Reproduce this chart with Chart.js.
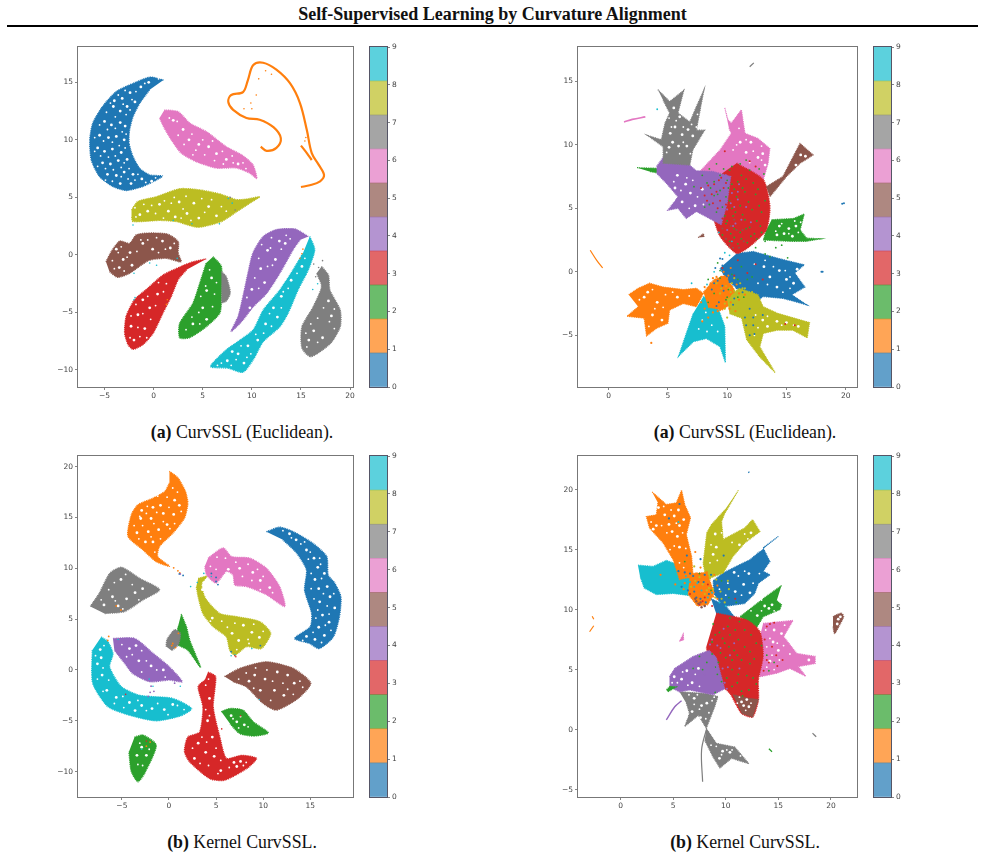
<!DOCTYPE html>
<html>
<head>
<meta charset="utf-8">
<title>Self-Supervised Learning by Curvature Alignment</title>
<script src="https://cdn.jsdelivr.net/npm/chart.js@4"></script>
<style>
  html, body { margin: 0; background: #fff; }
  body { position: relative; width: 985px; height: 856px; overflow: hidden; font-family: "Liberation Serif", serif; color: #111; }
  canvas { position: absolute; }
  .title { position: absolute; left: 0; width: 985px; top: 4px; text-align: center; font-weight: bold; font-size: 18px; line-height: 20px; }
  .rule { position: absolute; left: 7px; width: 971px; top: 25px; height: 2px; background: #000; }
  .caption { position: absolute; width: 300px; text-align: center; font-size: 17.8px; line-height: 20px; }
</style>
</head>
<body>
<div class="title">Self-Supervised Learning by Curvature Alignment</div>
<div class="rule"></div>
<div class="caption" style="left:92px;top:422px"><b>(a)</b> CurvSSL (Euclidean).</div>
<div class="caption" style="left:595px;top:422px"><b>(a)</b> CurvSSL (Euclidean).</div>
<div class="caption" style="left:92px;top:832px"><b>(b)</b> Kernel CurvSSL.</div>
<div class="caption" style="left:595px;top:832px"><b>(b)</b> Kernel CurvSSL.</div>

<script>
// tab10 colours, one per digit class
const tab10 = ['#1f77b4', '#ff7f0e', '#2ca02c', '#d62728', '#9467bd', '#8c564b', '#e377c2', '#7f7f7f', '#bcbd22', '#17becf'];
const barColors = ['rgba(31,119,180,.7)', 'rgba(255,127,14,.7)', 'rgba(44,160,44,.7)', 'rgba(214,39,40,.7)', 'rgba(148,103,189,.7)', 'rgba(140,86,75,.7)', 'rgba(227,119,194,.7)', 'rgba(127,127,127,.7)', 'rgba(188,189,34,.7)', 'rgba(23,190,207,.7)'];
const barTicks = [0, 1, 2, 3, 4, 5, 6, 7, 8, 9];
const barSpans = [0.9, 0.9, 0.9, 0.9, 0.9, 0.9, 0.9, 0.9, 0.9, 0.9];

// --- top left embedding ---
const aXTicks = [-5, 0, 5, 10, 15, 20];
const aYTicks = [-10, -5, 0, 5, 10, 15];
const aBlue = [[1,15.2],[-0.4,15.45],[-2.1,14.9],[-3.8,14.2],[-5.2,12.9],[-6.2,11.45],[-6.5,10],[-6.35,8.25],[-5.5,6.8],[-4.15,5.95],[-2.8,5.6],[-1.1,5.95],[0.27,6.5],[0.9,6.85],[-0.4,6.95],[-1.4,7.5],[-2.1,8.55],[-2.5,9.7],[-2.45,10.85],[-2.1,12],[-1.4,13.2],[-0.4,14.35]];
const aOrange = [[10.9,9.4],[11.5,9.05],[12.5,9.3],[12.95,10.15],[12.2,11.1],[10.8,11.75],[9.45,11.9],[8.1,12.6],[7.6,13.3],[7.9,13.9],[9.1,14.15],[9.6,15.2],[10.15,16.5],[11.15,16.7],[12.5,16.1],[13.9,14.9],[14.9,13.2],[15.6,10.85],[16.1,8.85],[16.8,7.85],[17.35,6.95],[16.95,6.4],[15.9,6.05],[15,5.9]];
const aOrangeBranch = [[15,9.5],[15.6,8.85],[16.1,8.25]];
const aGreen = [[6.05,-0.15],[6.9,-1],[6.9,-3.9],[6.75,-5.05],[5.35,-6.25],[3.65,-7.2],[2.65,-7.2],[2.65,-5.95],[4,-4.2],[4.7,-2.45],[5.35,-0.7]];
const aRed = [[5.35,-0.35],[4,-0.6],[2.8,-1],[0.95,-1.75],[-0.6,-2.9],[-1.95,-3.9],[-2.8,-5.35],[-2.95,-6.8],[-2.6,-7.8],[-2.1,-8.2],[-1.1,-7.8],[-0.05,-6.8],[0.95,-5.05],[1.8,-3.6],[2.5,-2.15],[3.35,-1.3]];
const aPurple = [[15.75,1.6],[14.4,2.25],[12.5,2.2],[11.15,1.6],[10.1,0.15],[9.6,-1.6],[9.1,-3.6],[8.6,-5.35],[7.9,-6.65],[8.95,-5.8],[10.15,-4.5],[11.5,-3.35],[12.85,-1.6],[14.2,0.45],[14.9,1.3]];
const aBrown = [[-4.85,-0.6],[-4.3,0.3],[-3.45,1.2],[-2.45,1],[-1.75,1.75],[-0.4,1.9],[1.45,1.8],[2.5,1.15],[2.5,0.15],[2.8,-0.6],[1.3,-0.3],[-0.4,-0.45],[-1.45,-1],[-2.45,-1.6],[-3.65,-1.95],[-4.5,-1.45]];
const aPink = [[1.1,12.6],[2.5,12.45],[3.7,11.45],[5.4,10.7],[7.4,9.4],[8.95,8.7],[10.1,7.85],[10.5,6.65],[9.8,7.1],[8.45,7.55],[6.4,7.55],[4.35,8.1],[2.8,8.85],[1.8,10],[1.1,11],[0.6,11.9]];
const aGrey = [[17.1,-1],[17.8,-1.75],[17.95,-3.05],[19,-4.8],[19,-6.25],[18,-7.7],[16,-8.85],[15.1,-8.1],[15.1,-6.25],[16.25,-4.5],[17.1,-2.75],[16.6,-1.6]];
const aGreySmall = [[6.9,-1.45],[7.4,-1.9],[7.8,-3.3],[7.4,-4],[6.9,-4.2]];
const aOlive = [[-2.25,3.9],[-1.6,4.65],[0.25,5.05],[2.65,5.75],[4.7,5.65],[6.75,5.3],[8.45,4.8],[9.45,4.85],[10.8,5.05],[9.8,4.5],[8.45,3.75],[6.9,2.9],[4.5,2.4],[2.3,2.9],[0.6,3],[-2.1,2.9],[-2.25,3.3]];
const aCyan = [[15.9,1.6],[16.4,0.45],[15.75,-1.3],[14.7,-3.05],[13.7,-5.05],[12.85,-6.25],[11.15,-7.55],[10.15,-9.1],[9.1,-10.2],[7.6,-9.85],[5.8,-9.7],[7.4,-8.25],[8.8,-7.4],[10.15,-6.5],[11.15,-4.8],[12.85,-3.05],[14.2,-1.3],[15.2,0.15]];
const aGaps = [[-3.2,13.6],[-2.4,14.1],[-1.3,14.6],[-0.5,15],[-4.1,12.9],[-4,13.4],[-3.4,12.5],[-2.7,12.9],[-1.9,13.3],[-5,11.6],[-4.3,11.3],[-3.4,11.5],[-2.9,11.2],[-5.5,10.4],[-4.6,10.2],[-3.8,10.3],[-3,10],[-5.7,9.3],[-5,9],[-4.2,9.2],[-3.3,8.9],[-5.2,8],[-4.4,7.9],[-3.6,8.2],[-2.7,8.3],[-4.7,7],[-3.8,6.9],[-3,7.2],[-2.1,7],[-3.4,6.2],[-2.3,6.2],[-1.2,6.6],[-0.2,6.4],
  [2,11.7],[3,10.9],[3.6,10],[4.6,9.6],[5.6,9.4],[6.4,8.8],[7.4,8.3],[8.6,7.9],
  [0.6,4.4],[1.5,3.8],[2.6,4.6],[3.4,3.6],[4.1,4.5],[4.6,3.2],[5.6,4.2],[6.4,3.4],[-0.6,3.8],[-1.4,3.5],[2.2,3.3],
  [-3.8,0.5],[-3.1,-0.4],[-2.4,0.2],[-1.1,1],[-0.1,0.5],[0.9,1.2],[1.7,0.6],[-3.5,-1.1],[-2.2,-0.9],
  [-1.6,-5.2],[-0.9,-6.4],[-2,-7.4],[-0.4,-4.6],[-1.1,-3.9],[-2.3,-6.2],[0.4,-3.4],
  [5.4,-3.1],[5.9,-2],[5,-4.6],[4,-6],[5.4,-5.6],
  [12.8,1.2],[11.6,0.4],[12.4,-0.4],[10.9,-1.2],[11.3,-2.4],[10,-3],[13.4,1],[9.8,-4.6],
  [15.1,-1],[14,-2.2],[13,-3.6],[12.2,-4.6],[12.6,-5.4],[11.4,-6],[10.6,-7.4],[9.6,-7.9],[8.6,-8.6],[7.5,-9.2],[9.2,-9.4],[8,-8.4],
  [15,0.9],[17.8,-4],[18.1,-5.3],[16.3,-6.6],[17.2,-7.2],[15.8,-7.4]];
const aGapsFine = [[-2.9,14.3],[-1.8,14.2],[-0.9,14.9],[0.5,15.3],[-3.6,13.9],[-4.4,13.2],[-3.1,13.1],[-2.2,13.5],[-4.8,12.4],[-3.9,12],[-2.8,12.2],[-2.4,12.6],[-5.5,11.3],[-4.7,10.9],[-3.9,11],[-3.2,10.7],[-2.8,10.5],[-6,10.2],[-5.1,9.9],[-4.2,9.8],[-3.5,9.5],[-2.9,9.3],[-6,9],[-5.4,8.6],[-4.6,8.5],[-3.9,8.6],[-3,8],[-5.7,7.7],[-4.9,7.5],[-4.1,7.4],[-3.3,7.6],[-2.5,7.5],[-4.9,6.5],[-4.2,6.4],[-3.3,6.8],[-2.6,6.6],[-1.9,6.5],[-1.6,7],[-0.8,6.3],[0.2,6.7],
  [1.6,11.9],[2.4,11.6],[2.5,10.4],[3.1,9.6],[3.9,10.5],[4.3,9.1],[5,10],[5.2,8.7],[6,9.9],[6.2,8.2],[7,9],[7.1,7.9],[8,8.6],[8.1,8],[9.1,8],[9.4,7.5],[4,8.7],
  [-1.9,4.1],[-1,4.4],[-0.2,4.3],[0.2,3.6],[1.1,4.7],[1.8,4.5],[2.1,5],[3,4],[3.3,5.1],[3.8,3],[4.9,4.9],[5.2,3.7],[5.9,4.8],[6.9,4.2],[7.4,3.8],[1,3.2],[-1.8,3.3],[2.8,3.2],
  [-4.2,-0.5],[-3.6,0.2],[-3.3,0.7],[-2.7,-0.2],[-1.7,0.3],[-1.3,1.3],[-0.6,1.3],[0.3,1.5],[0.5,0.2],[1.2,0.5],[2.1,1],[-3,-1.4],[-4,-1.2],
  [-2.3,-5.3],[-1.8,-4.3],[-1.1,-5.1],[-0.6,-3.6],[-0.3,-5.6],[0.2,-4.4],[-2.4,-7.2],[-1.4,-7.1],[-1.6,-6.3],[-0.7,-7.2],[1,-3.2],[1.3,-2.5],[0.5,-2.4],
  [5.7,-1.3],[5.3,-2.7],[4.8,-3.6],[6.2,-3.4],[6,-4.5],[4.6,-5],[3.9,-5.4],[3.3,-6.5],[4.7,-6],[6.4,-2.4],
  [13.5,1.7],[12,1.5],[11.9,0.6],[11,0.9],[13,0.5],[10.7,-0.3],[11.6,-1],[10.3,-2],[10.7,-2.9],[9.5,-3.7],[13.9,1.4],[12.1,-0.9],
  [14.7,0.4],[15.4,-0.3],[14.6,-1.6],[13.7,-2.9],[13,-4.6],[13.2,-3.2],[11.8,-5.1],[12,-6.2],[11.2,-6.8],[10.4,-6.9],[9.9,-8.6],[8.9,-7.9],[7.9,-9.6],[8.4,-9.1],[9.5,-8.9],[6.9,-9.4],[6.5,-9.6],
  [17.3,-4.6],[18.4,-4.7],[17.9,-5.8],[18.4,-6.4],[16.7,-5.5],[16,-6],[15.5,-6.8],[16.7,-7.6],[15.6,-8]];
const aSpeckOrange = [[10.45,13.9],[9.9,13.2],[10,12.7],[9.2,12.7],[11.4,16],[12,15.7],[10.7,15.3],[15.5,10.2],[15.4,9.9],[15.2,0.5],[15.1,0.1],[14.9,-0.3],[1.4,-3.9],[1.3,-4.3]];
const aSpeckCyan = [[-1.9,-3.7],[-2,-3.9],[-0.4,-0.7],[0.3,-0.9],[-2.1,2.6],[2,3],[3.9,2.7],[7.6,4.9],[8,4.5],[2.4,-0.3],[16.2,-3],[16.7,-2.5],[-2,-1.6],[6.7,2.7]];
const aSpeckGrey = [[16.3,-0.8],[16.8,-1.1],[16.5,-1.9],[17.2,-0.5],[8.3,3.9],[7.8,5]];

// --- top right embedding ---
const bXTicks = [0, 5, 10, 15, 20];
const bYTicks = [-5, 0, 5, 10, 15];
const bBlue = [[10.8,1.45],[12.2,1.6],[14.75,0.95],[16.5,0.55],[15.7,-0.1],[16.55,-1.2],[15.45,-1.8],[16.7,-2.6],[14.75,-2.1],[13.05,-1.95],[12.2,-2.5],[11.05,-1.45],[9.95,-0.65],[9.4,0.3]];
const bMixOrange = [[8,-1.6],[8.9,-0.6],[9.8,-0.3],[10.6,-1.4],[10.8,-2.2],[9.6,-3],[8.4,-2.8]];
const bMixOlive = [[10,-2.2],[11,-1.3],[12.6,-1.8],[13,-2.7],[11.4,-3.7],[10.2,-3.3]];
const bOrange = [[1.7,-1.8],[2.5,-1.3],[3.45,-0.9],[4.6,-1.2],[6.3,-1.4],[7.4,-1.3],[8,-1.7],[7.4,-2.75],[6.3,-2.5],[5.15,-3],[5,-4.05],[4.05,-4.45],[3.2,-5.05],[3,-3.65],[1.55,-3.5],[2.5,-2.75]];
const bOrangeSmall = [[-1.55,1.7],[-1,0.9],[-0.5,0.3]];
const bGreen = [[13.75,4.1],[15.6,4.2],[16.5,4.55],[16.15,3.3],[16.7,2.65],[17.9,2.6],[16.7,2.4],[15.3,2.4],[13.05,2.5],[13.3,3.3]];
const bGreenTail = [[2.4,8.2],[4.05,8.15],[4.3,7.75],[3.45,7.9]];
const bRed = [[10.8,8.55],[13.05,7.25],[13.6,5.15],[13.3,3.3],[11.9,2],[10.8,1.45],[9.4,2.8],[8.8,4.35],[8.25,5.9],[8.8,7.25]];
const bPurple = [[4.05,8.3],[4.75,9.2],[6.3,8.8],[7.4,7.95],[8.8,7.9],[10.3,7.5],[10,5.4],[9.5,3.7],[7.4,4.75],[6.55,4.2],[5.85,5],[5,4.85],[5.85,5.9],[4.85,7],[4.05,7.75]];
const bBrown = [[13.3,6.7],[14.7,7.5],[16,9.85],[16.15,10.1],[17.25,9.2],[16.15,8.55],[15,7.5],[13.6,5.9]];
const bBrownSmall = [[7.55,2.7],[8,3],[8.05,2.75]];
const bPink = [[9.8,12.9],[10.05,12],[10.35,11.7],[11.2,12.75],[11.5,10.9],[12.6,10.5],[13.6,9.7],[13.45,8.55],[13.05,7.25],[10.8,7.75],[8.55,7.75],[7.7,7.9],[9.4,9.6],[10.35,10.9],[10.15,11.3]];
const bPinkSmall = [[1.3,11.8],[2,12],[3.1,12.2]];
const bGrey = [[4.15,14.35],[5.15,13.4],[6.35,14.3],[5.85,12.5],[6.85,11.8],[7.4,13],[8.05,14.35],[7.4,11.15],[8.1,11.15],[7.1,9.6],[6.85,8.4],[4.6,8.55],[4.6,9.85],[3.25,10.75],[4.45,10.4],[4.75,11.7],[5.15,12.5],[4.6,13.5]];
const bGreySmall = [[11.9,16.15],[12.25,16.45]];
const bOlive = [[10.8,-1.95],[13.05,-2.75],[14.2,-3.25],[16.95,-4],[16.75,-5.2],[15.55,-4.6],[14.2,-4.6],[13.05,-4.85],[12.75,-5.9],[14.05,-7.95],[12.75,-6.7],[11.65,-5.35],[11.2,-3.55]];
const bCyan = [[8,-1.95],[9.1,-2.5],[9.8,-4.3],[9.85,-7.15],[9.4,-5.9],[8.25,-5.25],[7.15,-5.5],[5.9,-6.65],[6.55,-4.85],[7.15,-3.25]];
const bGaps = [[5.6,11.4],[6.2,10.8],[6.7,11.2],[5.4,10.2],[5.9,9.9],[6.6,9.9],[6,12.2],[5.1,9.8],[7.1,10.7],[5.2,10.9],[5.5,12.9],[6.9,12.6],
  [12,10.2],[13,9.3],[12.6,9],[11.1,10.2],[11.6,9.4],[13.2,8.4],
  [5.8,7.6],[6.5,6.9],[6.9,6.2],[6.2,5.5],[7.3,5.2],[5.6,6.6],[7.9,6.5],
  [15.2,3.4],[14.8,3],[15.8,3.6],[14.4,3.6],[15.5,2.8],[14.2,2.9],
  [14.4,0.1],[13.6,-0.4],[15,-0.6],[14.2,-1.2],[15.6,-0.9],[15.9,0.2],[13.1,0.4],
  [3,-2],[3.3,-1.6],[4.1,-2.4],[5.8,-2],[3.7,-3.4],[4.5,-3.8],
  [14.2,-3.9],[15,-4],[13,-3.8],[13.4,-4.3],[16,-4.3],
  [16.2,9.2],[16.6,9.1],[15.8,8.4]];
const bGapsFine = [[5.7,11.9],[6.3,11.4],[5.3,11.4],[7,11.6],[4.9,9.4],[6,9.3],[6.9,9.3],[6.3,10.2],[5.1,12.1],[7.4,11.4],[7.5,12.4],
  [10.8,10],[11.6,10.4],[12.9,9.9],[12.2,9.5],[11,11.3],[10.5,9.6],[11.9,8.6],[12.9,8.8],
  [5.5,7.1],[6.1,6.4],[6.6,7.4],[5.5,5.6],[6.8,5],[7.5,5.9],[7.1,7.2],[8,5.3],
  [14.6,3.8],[15.2,3],[16,3.1],[15.7,4],[14.1,3.2],[16.2,3.9],
  [13.9,0.4],[14.9,0.1],[15.3,-0.4],[13.4,-1],[14.7,-1.6],[12.6,-0.9],[13.2,0.9],[12.3,0.6],[15.3,-1.3],
  [2.6,-2.2],[3.7,-1.4],[4.8,-1.8],[4.6,-2.8],[3.9,-2.9],[3.4,-4.3],[6.8,-1.9],[5.4,-1.6],
  [12.4,-3.4],[12.6,-4.4],[14.6,-4.2],[15.6,-4.2],[13.4,-3.5],[12.3,-5],
  [8.2,-3.2],[8.7,-4.2],[7.6,-4.5],[8.3,-4.7],[9.2,-4.7],[7.9,-3.8]];
const bSpeckGreen = [[8.6,6.6],[9.2,6.1],[9.6,5.1],[9.1,4.7],[9.9,3.8],[10.3,3],[10.5,4.4],[10.2,5.6],[10.6,6.5],[10,7.2],[11.2,7.6],[11.5,6.3],[11.1,5.2],[11.5,4.1],[11.1,3.1],[10.9,2.2],[11.9,3.5],[12.1,4.9],[12.4,6.1],[12.2,7],[12.8,3.6],[12.9,4.7],[13.2,5.6],[8.9,7.1],[9.4,7.6],[7.9,7.6],[7.2,6.7],[8.1,5.1],[8.5,5.3],[9.6,2.9],[11.7,2.3],[12.5,2.6],[10.4,8.3],[11.9,8],[8.4,-0.6],[9.4,0.1],[10.1,-1.4],[10.9,-0.6],[11.4,-2],[9.9,-2.2],[13.6,1.2],[15.1,1.1],
  [8.3,7],[8.9,6],[9.4,6.4],[9.8,4.4],[10,4],[10.6,3.4],[10.2,2.4],[10.4,5],[10.8,5.9],[10.9,7.1],[11.3,6.6],[11.8,5.5],[11.3,4.5],[11.6,3.4],[12.3,3],[12.5,4],[12.7,5.2],[12.6,6.5],[11.6,7.3],[10.1,6.6],[9.9,5.9],[10.4,6.9],[10.7,4.7],[10.6,2.7],[11.2,2.6],[12,2.8],[12.9,3.1],[10.2,8],[9.1,8.5],[9.7,8.1],[8.5,8.1],[11.1,8.5],[11.6,8.8],[12.7,8.1],[13.1,7.7],[13.5,3.4],[13.9,2.9],[13.2,2.4],[14.6,2.1],[14.1,1.9],[13.2,1.4],[12.4,1.9],
  [9.4,-0.5],[8.9,-1.7],[10,-2],[10.9,-2],[10.4,-0.2],[11.7,-0.6],[9.2,0.7],[8.4,-2.4],[11.2,0.4],[12.1,-0.4]];
const bSpeckPurple = [[8.5,5.8],[9,5.4],[9.3,6.6],[9.7,6],[9.5,4.5],[10,4.9],[10.4,6.2],[10.7,3.8],[10,3.3],[10.9,5.7],[9.9,7.6],[11,6.9],[10.3,5.4],[10.6,5.1],[10.1,7],[10.9,6.3],[10.5,3.6],[11.2,4.1],[11.6,5.1],[12,3.9]];
const bSpeckOlive = [[9.5,-1.3],[10.3,-1.6],[10.7,-2.4],[11.3,-1.3],[11.8,-2.2],[10.4,-0.9],[9.8,-2.9],[11,-2.9],[11.6,-3.1],[12.4,-2.1],[10.9,-1.8],[9.1,-0.9],
  [9.8,-2.5],[10.3,-2.2],[10.6,-1.5],[11.2,-2.5],[11.7,-2.6],[12.1,-1.6],[11.1,-0.9],[10.2,-1.3],[9.4,-1.7],[12.5,-2.4],[12.9,-2.7],[11.5,-3.4],[10.6,-0.5],[11.9,-3.2],[12.3,-3.1],[10.9,-3.5],[9.9,-1.1],[11.5,-1.3],[10,-3.6]];
const bSpeckOrange = [[8.7,-1.2],[9.1,-1.8],[8.3,-2.1],[9.6,-2],[8.8,-0.5],[9.5,-0.4],[10.1,-0.3],[10.3,-2.4],[9.2,-3.1],[8.4,-3.6],[7.9,-3.9],[9.9,-1],[3.6,-5.6],[8.1,-1.2],
  [8.3,-1.6],[8.6,-1.9],[9,-1.4],[9.3,-1.1],[8.9,-2.2],[9.5,-2.3],[9.8,-1.7],[10.2,-1.9],[9.6,-0.8],[10,-0.5],[10.4,-1.2],[10.8,-1],[11,-1.7],[11.5,-1.8],[8.6,-0.9],[9.1,-0.4],[9.4,-3],[8.8,-3.2],[8.1,-2.9],[7.8,-2.4],[10.2,-2.9],[10.7,-3.1],[9.7,0],[10.3,0.3],[11,-2.2]];
const bSpeckBlue = [[8.9,-0.9],[9.3,-2.4],[9.7,-1.5],[10.6,-2.1],[11.5,-3.6],[12.2,-4.2],[11.9,-5],[9.4,1.05],[9.6,1],[17.95,0],[18.05,0],[19.7,5.35],[19.85,5.4],[13.7,0.1],
  [9.2,-0.7],[9.6,-1.1],[10.2,-0.8],[10.8,-1.3],[11.3,-1.6],[10.5,-2.6],[9.1,-2.7],[11.9,-2.9],[12.2,-3.6],[11.6,-4.2],[8.7,-1.4],[9,0.3],[9.6,0.5],[12.3,-4.9],[13,-3.4]];
const bSpeckRed = [[9.6,0.3],[10.9,0.9],[12.4,0.6],[13,-0.6],[11.7,-0.1],[10.6,-0.3],[14.9,-4.1],[15.7,-4.2],[9.8,9.5],[11.9,8.7],[12.4,8.3],
  [8.9,6.9],[9.1,6.3],[9.4,5.6],[9.2,5],[9.7,6.6],[9.9,5.3],[8.7,6.1],[8.4,6.8],[9.3,7.2],[8.8,5.4],[9.6,4.2],[8.1,6],[7.8,6.6],[8.3,5.6],[9.9,7],[9.5,7.4]];
const bSpeckCyan = [[9.3,3.1],[10.4,2.4],[9.8,1.5],[10.2,1.3],[8.9,0],[8.3,-1],[7.9,-2.6],[4.1,12.8],[7,-0.9]];
const bSpeckBrown = [[10.6,4.1],[10.3,3.6],[9.9,2.6],[10.2,2.1],[10.5,1.9],[11,1.9],[11.4,2.4],[9.6,3.4],[10.8,3.3],[11.3,3.3]];

// --- bottom left embedding ---
const cXTicks = [-5, 0, 5, 10, 15];
const cYTicks = [-10, -5, 0, 5, 10, 15, 20];
const cBlue = [[10.35,13.6],[11.75,14.05],[13.2,13.6],[15.3,12.45],[16.75,11.15],[16.9,9.35],[17.6,8.55],[18.25,7.2],[18.1,5.25],[17.45,3.25],[15.95,2.1],[14.95,2.6],[13.35,3.1],[15,4.25],[15.15,5.55],[14.4,7.85],[14.6,9.85],[13.55,11.5],[12.1,12.8]];
const cOrange = [[0.05,19.55],[0.95,18.9],[1.75,17.55],[2,16.4],[1.65,14.95],[0.4,13.45],[-1,12.15],[-1.2,11.15],[0.05,10.2],[-1.35,10.65],[-2.75,11.8],[-4.35,13.15],[-4,15.25],[-3.3,16.25],[-1.7,16.9],[-0.45,17.55],[0.05,18.4]];
const cGreenTop = [[1.3,5.5],[1.85,4.25],[2.2,2.95],[3.35,0.25],[2,1.95],[0.8,2.6],[0.95,4.25]];
const cGreenRight = [[5.55,-4.1],[6.45,-3.8],[7.85,-3.95],[8.95,-5.1],[10.55,-6.2],[8.95,-6.5],[7.5,-6.25],[6.45,-5.25]];
const cGreenLeft = [[-3.65,-6.6],[-2.75,-6.4],[-1.35,-7.4],[-2.6,-10.2],[-3.3,-11],[-4,-10],[-4.25,-8.05]];
const cRed = [[4.15,-0.2],[4.95,-0.65],[4.7,-3.65],[5.4,-6.6],[6.1,-8.7],[7.7,-8.4],[9.3,-8.7],[8.25,-9.7],[5.9,-10.85],[4.35,-10.7],[2.2,-9.05],[1.65,-8.05],[2,-6.6],[3.25,-6.1],[3.6,-3.65],[3.1,-1.65],[3.8,-1]];
const cPurple = [[-5.95,3.1],[-3.65,3.1],[-1.7,1.65],[0.05,0.3],[1.4,-1.15],[0.05,-1],[-2.05,-1.15],[-3.85,-0.35],[-4.7,0.65],[-5.8,1.95]];
const cBrown = [[5.9,-0.65],[7.5,0.15],[10.35,0.8],[13.2,0.15],[15.05,-1.3],[13.7,-2.8],[11.4,-3.95],[10,-3.3],[8.2,-1.65],[6.8,-1.15]];
const cPink = [[4.15,11],[5.75,12],[6.65,11.15],[8.6,11],[10.35,10],[11.75,8.2],[12.3,6.25],[10.35,7.4],[8.25,8.2],[7,8.35],[6.8,9.35],[6.1,9.7],[5,8.55],[4,9.35],[3.8,10.2]];
const cGrey = [[-8.35,6.25],[-7.4,7.55],[-6.3,9.5],[-5.05,10.1],[-3.1,9],[-1,7.9],[-2.75,6.9],[-4.7,5.75],[-6.85,5.55]];
const cGreySmall = [[-0.3,2.3],[-0.2,3],[0.6,3.95],[1.2,3.6],[1,2.5],[0.3,1.9]];
const cOlive = [[3.1,9],[4,9.2],[3.45,8.4],[3.9,7],[5.4,5.55],[7.15,5.25],[9.65,4.75],[10.8,3.6],[9.8,2.1],[8.25,2.3],[7,1.45],[6.45,1.95],[6.1,3.25],[4.7,4.25],[3.6,5.55],[3.1,7.2],[2.9,8.2]];
const cCyan = [[-7.2,3.25],[-6.5,2.8],[-5.95,1.6],[-6.3,0.3],[-5.05,-1.65],[-3.1,-2.5],[0.4,-2.8],[2.4,-3.8],[1.3,-4.5],[-1.35,-5],[-4.2,-4.45],[-6.5,-3.6],[-8.1,-1.3],[-8.15,1.95]];
const cGaps = [[-1.7,16],[-0.9,16.2],[0.6,16.7],[-3,14.9],[-1.9,14.9],[-0.6,15.4],[0.5,15.3],[-3.4,13.5],[-2.2,13.6],[-1.1,13.8],[-0.2,14.3],[-2.5,12.6],[-1.7,12.6],[1.1,16.2],[-2.9,15.7],
  [13.5,12.8],[14.6,11.8],[15.4,11],[15.8,10.1],[15.5,8.9],[15.9,8],[16.8,8.2],[17.1,7.2],[16,6.7],[17.6,6.1],[16.3,5.4],[15.9,4.2],[17,4.7],[16.5,3.4],[15.5,3],[14.6,3.3],[12.8,13.4],[16.5,9.5],
  [-6,7.2],[-5.1,8.9],[-3.6,7.6],[-4.5,7],[-2.8,8],[-6.9,6.4],[-5.4,6.3],
  [-7.3,2],[-7.6,0.6],[-7.1,-0.5],[-6.6,-2],[-5.6,-2.7],[-4.2,-3.2],[-2.9,-3.5],[-1.8,-3.8],[-0.5,-3.9],[0.4,-3.4],[-7.2,1.2],[-3.6,-4],
  [-4.2,2.1],[-3.2,0.9],[-1.9,0.4],[-0.6,0],[-3.5,2.4],
  [6.3,9.9],[7.5,10],[8.9,9.6],[9.7,8.8],[10.7,8.1],
  [5,3.3],[6.7,3.6],[7.9,4.4],[8.8,3.7],[9.6,3.2],[7.4,2.9],[4.6,5.1],
  [3.55,7.9],[3.7,8.6],[4,8.1],
  [9.1,-0.5],[10.2,-0.9],[11.5,-0.2],[12.6,-0.5],[13.3,-1.3],[11.2,-2],[9.7,-2],[12.2,-2.5],[8.5,-1.1],
  [4.3,-2.8],[4.1,-5],[4.6,-6.6],[3.1,-7.2],[3.9,-8.1],[4.8,-8.5],[2.7,-8.7],[6.9,-9.1],[7.6,-9],[7.2,-9.5],[5.5,-9.9],
  [7.2,-5.1],[8,-5.4],[6.6,-4.5],
  [-2.9,-7.6],[-3.4,-8.4],[-2.4,-8.4]];
const cGapsFine = [[-1.2,17.1],[-0.2,17],[0.4,17.9],[0.9,17.5],[-2.3,16.1],[-3.1,15.1],[-2.4,15.4],[-1.3,15.5],[0,16],[1.3,15.6],[-3.7,14.2],[-2.8,14.2],[-1.6,14.4],[-0.6,14.6],[0.6,14.4],[-3.2,12.9],[-0.9,12.9],[-1.9,13.1],[0.1,13.9],[-1.5,11.6],
  [12.1,13.7],[13,13],[14,12.4],[14.4,12.6],[15,11.6],[14.8,10.9],[16,11],[16.1,10.4],[15.1,9.5],[16.2,9],[15.1,8],[16.4,7.5],[17.5,7.5],[15.4,7],[16.8,6.3],[15.8,5.9],[17,5.5],[15.6,5.1],[16.6,4.4],[17.2,3.9],[14.2,2.9],[16.2,2.7],[15.3,3.7],
  [-7.2,6.9],[-6.4,7.9],[-5.8,8.6],[-4.6,9.4],[-3.9,8.4],[-3.2,6.9],[-5.7,6.8],[-4.9,6],
  [-7.7,2.8],[-6.9,2.4],[-7.8,1.4],[-7,0.2],[-7.6,-0.9],[-6.4,-1],[-7,-2.1],[-5.8,-3.3],[-4.9,-2.6],[-4.8,-3.7],[-3.3,-3],[-2.4,-4],[-1.2,-3.3],[-0.1,-4.4],[0.9,-3.5],[1.6,-3.9],
  [-5,2.5],[-4.5,1.3],[-3.9,1.5],[-2.9,1.9],[-2.4,0.9],[-2.9,-0.2],[-1.3,0],[-0.4,-0.7],
  [5.1,11.1],[6,11],[7.1,10.6],[7.8,9.2],[8.4,10.4],[9.4,9.9],[10,9.2],[11,7.6],[8.8,8.8],[5,9.9],[4.4,10.2],[9.7,7.9],
  [4.4,4.8],[5.6,4.8],[6.2,4.2],[7,4.6],[8.4,3],[9,4.5],[10,3.8],[7.2,2],[8.5,2.6],
  [7.4,-0.9],[8.2,-0.3],[9.2,0.2],[10.4,0],[11,-1.1],[12.1,-1.3],[12.6,-1.9],[13.9,-1.1],[14.2,-1.7],[10.8,-3],[9,-1.8],[13.2,-2.4],
  [3.9,-1.5],[4.2,-0.9],[3.9,-3.9],[4.3,-4.5],[3.5,-6.6],[4,-7.1],[5,-7.7],[2.5,-7.7],[3.3,-9.2],[4.2,-9.4],[5.5,-8.9],[6.4,-9.6],[7.9,-9.4],[8.2,-9.1],[5.2,-10.2],
  [6.8,-4.8],[7.6,-4.6],[8.4,-5.6],[7.4,-5.7],[-3.1,-7.2],[-2.1,-7.8],[-3.3,-9.3],[-2.8,-9.4]];
const cSpeckOrange = [[0.5,10.05],[0.95,9.75],[1.15,9.55],[-6.4,3.3],[-6.5,2.9],[0.3,2.4],[0.7,2.2],[1,3.6],[0.4,2.6],[-2,-7.1],[-2.4,-7.5],[-5.1,5.9],[-5.6,6.3]];
const cSpeckCyan = [[2.3,8.2],[3,8.6],[3.7,9.5],[4.5,9.2],[7,1.5],[6.6,1.4],[8.8,2.1],[1.2,-1.6],[-2.1,-0.9],[-1.7,-1.6],[-5.4,3],[-2.9,-7.8],[9.6,-2.9]];
const cSpeckBlue = [[1.1,9.45],[1.5,9.3],[5,8.7],[5.2,8.4],[5,9.1],[4.5,9.5],[9.7,2.4],[6.6,1.8]];
const cSpeckPurple = [[-1.9,-1.6],[-2,-2.2],[-2.2,-2.6],[-1.6,-2.1],[0.6,-1.3],[1.2,9.45]];
const cSpeckRed = [[7,1.4],[7.1,1.3],[-4.6,-2.4],[5.6,-5.8],[7.6,-4.5],[-2.4,-7],[5.1,-5.7]];

// --- bottom right embedding ---
const dXTicks = [0, 5, 10, 15, 20];
const dYTicks = [-5, 0, 5, 10, 15, 20];
const dBlue = [[15,16.1],[13.55,15.15],[14.2,14],[13.55,13.2],[14.2,12.9],[13.1,12.2],[12.75,11.35],[11.8,10.5],[9.75,10.25],[8.9,11.3],[8.8,12.4],[9.75,13.05],[11.35,13.75],[12.3,14.15],[13.25,14.85]];
const dMixOrange = [[6.6,13],[8.2,13.1],[8.9,11.4],[8.3,10.4],[7.3,10.3],[6.4,11.3]];
const dMixBlue = [[8.6,10.9],[9.9,10.4],[11,9.2],[9.2,9.4]];
const dBlueSmall = [[12.15,21.4],[12.25,21.5]];
const dOrange = [[3,19.8],[4.35,18.75],[5.3,18.9],[5.8,19.95],[6.1,18.75],[6.65,17.65],[6.25,16.25],[6.75,14.45],[6.9,12.75],[5.6,12.5],[5,14.15],[4.05,15.55],[2.75,16.8],[2.45,17.75],[3.4,17.9],[3.55,18.9]];
const dOrangeUpper = [[-2.7,9.45],[-2.55,9.2]];
const dOrangeLower = [[-2.95,8.15],[-2.55,8.65]];
const dGreen = [[15.3,12],[13.85,11.1],[12.6,10.25],[11.35,9.4],[12.9,8.45],[13.55,9.4],[15.15,10],[15.3,10.4],[14.85,10.75]];
const dGreenPatch = [[4.5,3.15],[5.3,3.55],[4.7,3.6],[4.35,3.3]];
const dGreenSmall = [[14.1,-1.6],[14.4,-1.85]];
const dRed = [[9.1,9.7],[11.95,9.15],[13.25,8.15],[13.55,6.1],[13.1,4.15],[13.1,2.45],[12.55,1.05],[11.5,1.35],[10.4,3],[9.4,3.85],[8.5,5.25],[8.15,6.9]];
const dPurple = [[4.65,4.4],[5.15,5.1],[6.9,6.1],[8.4,6.6],[9.1,6],[9.9,3.4],[8.8,2.9],[6.55,3.3],[5.6,3.15],[4.65,3.55]];
const dPurpleTail = [[4.35,0.8],[5.15,1.9],[5.8,2.4]];
const dBrown = [[10.7,2.9],[12.2,2.6],[13.1,2.5],[12.55,1.05],[11.5,1.35]];
const dBrownRight = [[20.2,9.4],[20.5,9.55],[21,9.7],[21.2,9.4],[20.75,8.6],[20.35,8],[20.2,8.6]];
const dPink = [[13.55,8.85],[16.4,9.1],[15.5,7.75],[16.75,6.35],[18.5,6.1],[18.5,5.5],[16.9,5.25],[17.6,4.45],[16.1,5.1],[14.85,4.7],[13.25,4.4],[12.9,6.1],[13.25,7.75]];
const dPinkSmall = [[5.6,7.35],[5.95,7.95],[6,7.45]];
const dGreyUpper = [[5.6,3.15],[8.15,3],[9.25,2.75],[8.95,1.9],[8.15,0.1],[7.4,1.2],[6.1,0.25],[6.55,1.35],[6.25,2.2]];
const dGreyLower = [[8.15,0.1],[9.1,-1.15],[10.85,-1.45],[12.2,-2.85],[10.55,-2.4],[9.45,-3.2],[8.8,-2.3],[8,-0.9]];
const dGreyThread = [[8.15,0],[7.7,-1.7],[7.8,-4.35]];
const dGreySmall = [[18.25,-0.3],[18.6,-0.6]];
const dOlive = [[11.2,19.95],[9.9,18],[9.6,17.35],[9.75,15.85],[11.8,16.8],[12.55,17.5],[13.25,16.5],[11.8,15.55],[10.7,14.45],[9.75,13.05],[8.15,12.5],[7.85,13.85],[8.2,16.4],[8.65,17.1],[9.9,18.3]];
const dCyan = [[1.65,13.7],[3.1,13.6],[4.35,14.1],[5.95,13.6],[7.2,12.5],[8.15,11.65],[7.2,11.1],[5,11.35],[3.4,11.25],[2.25,11.8],[1.85,12.75]];
const dGaps = [[3.6,18.5],[4.2,17.9],[5.1,17.8],[4.6,17.1],[3.4,17],[3.1,16.7],[5.5,18.3],[5.6,17],[5.4,16.1],[4.9,16.5],[6,17.5],[5.6,15.2],
  [9,16.3],[9.1,15.2],[8.8,14.6],[11.3,15.4],[12.4,16.4],
  [14.1,10.1],[14.4,10.4],[13.7,10.3],[13,9.5],
  [10.8,13.1],[11.7,12.1],[12.2,13],[10.9,11.5],[12.3,11.4],
  [5.8,4.2],[6.3,4.9],[6.8,3.9],[7.4,5.1],[5.1,4.4],
  [7,2.6],[7.7,2],[6.8,1.5],[8.2,2.2],[7.6,1],
  [9.7,-1.8],[10.4,-1.9],[9.4,-2.4],
  [11.7,2],[12.2,1.9],[12,2.5],[11.5,2.3],
  [15,6.6],[15.3,8],[14.6,8.3],[14.5,7.3],[17.9,5.8],[14.2,5.7],
  [20.7,9.2],[20.6,8.8],[20.9,9.4]];
const dGapsFine = [[4.1,18.6],[3.2,18],[4.8,18.3],[3.9,17],[5.3,17.2],[2.9,17.3],[4.4,16.4],[5.9,16.4],[5.1,15.3],[4.7,15],[6.2,15.1],[5.6,13.9],[6,13.5],
  [8.6,15.4],[8.5,13.9],[9.2,14.1],[9.6,16.4],[10.6,15.6],[12.1,15.9],[11.8,16.3],
  [13.4,9.9],[14.6,9.9],[13.4,10.8],[12.4,9.9],
  [10.2,12.2],[11.2,12.8],[11.8,13.2],[12.6,12.2],[13.2,13],[10,11.2],[11.5,11.2],[9.4,11.7],
  [5.4,3.9],[5.9,4.8],[6.4,3.7],[7.1,4.6],[7.5,3.6],[4.9,3.9],
  [6.5,2.9],[7.3,2.9],[6.3,1],[7.5,1.7],[8.4,1.4],[8.7,2.4],[8.1,0.9],[7,2.1],[8.9,2.7],
  [9.1,-1.4],[10.1,-1.7],[10.6,-1.7],[11.4,-2.2],[9.6,-2.1],[8.6,-1.3],
  [14.2,7.6],[14.9,7.2],[13.9,6.9],[14.4,6.2],[15.5,7],[15.1,5.8],[16.2,8.5],[15.6,8.7],[16.1,6.3],[13.8,8.3],[13.9,5.2],[14.6,5],
  [11.3,2.7],[11.9,1.6],[12.4,2.2],[11.1,2.2]];
const dSpeckGreen = [[8.8,8.8],[9.4,8.1],[9.9,7.2],[8.7,6.3],[9.3,5.6],[10,6],[10.4,7.9],[10.8,6.6],[11.2,7.5],[11.5,5.8],[10.6,5],[10.1,4.3],[11.1,3.9],[12,4.5],[11.8,6.9],[12.4,7.9],[12.7,5.9],[12.2,3.3],[9.2,4.6],[8.2,5.6],[7.5,6.1],[6.9,5.1],[13.9,6.2],[14.6,5.6],[14.1,4.9],[11.3,9],[13.4,7],[10.4,9.3],[8.6,11.6],[9.6,12.4],[10.3,11],[11,10.6],[6.1,14],[7.5,13],[7.8,5],[9,3.1],
  [9,7.9],[9.7,7.6],[10.2,8.6],[10.9,8.3],[9.5,6.4],[10.3,6.9],[10.6,5.8],[11.1,6.2],[11.2,4.6],[10.6,3.6],[11.5,3.2],[12.3,5.5],[12.6,4.3],[12.3,6.5],[12.9,7.2],[9,5.2],[8.7,7.3],[9.6,4],[11.8,8.3],[12.9,3.8],[11.6,2.8]];
const dSpeckPurple = [[8.7,7.5],[9.2,7],[8.9,5.2],[9.7,5.1],[10.1,3.4],[8.5,7.1],[9.5,6.8],[10.4,6.2],[8,4.6],[9.8,8.4],[10.8,7.2],[10.2,5.2],[11.3,5.1],[9.9,3.9]];
const dSpeckOrange = [[6.4,13.4],[6.9,12.1],[7.6,11.9],[8.2,13.1],[6,11.7],[5.2,12.1],[7.1,14.8],[8.8,11.1],[7.3,11],[3.8,12.9],[9.2,12],
  [7.2,13],[7.9,12.6],[8.4,12.2],[6.5,12.7],[7.3,11.5],[7.8,11.2],[8.5,10.9],[9.2,10.9],[6.1,12.2],[7.6,13.5],[8.9,12.9]];
const dSpeckOlive = [[7.5,12.7],[8.4,11.8],[9,11],[9.5,11.5],[8,11.3],[9.9,10.6],[7,13.6],[10.2,12.4],[6.7,11.9],
  [7.8,12.1],[8.2,11.6],[8.8,11.7],[8.5,12.6],[9.1,12.5],[9.6,10.9],[7.1,12.4],[9.7,13.1],[10.3,11.7]];
const dSpeckBlue = [[7.9,12.3],[8.6,12.9],[7,11.5],[6.6,13],[8.1,10.6],[9.1,10.2],[5.5,13.2],[4.6,17.6],[5.6,18.8],[9.8,14.5],[7.6,14.2],[5.8,11.9],
  [7.4,12.3],[8,12.9],[7.2,11],[8.4,11.3],[7.6,10.9],[6.4,11.6],[6.9,12.8],[6.3,14.5],[6.1,13.1]];
const dSpeckRed = [[7.5,10.4],[7.8,10.7],[8,11],[6.6,11.3],[8.7,10.3],[14.2,8.8],[14.6,8.9],[13.9,8.6],[15.4,5.8],[14.8,6.2],[8.3,12.1],[10.9,10.9],[14.1,5.6],[13.7,7.5],[14.4,6.9],[13.9,5.8],[14.9,5.3],[13.6,4.9]];
const dSpeckCyan = [[6.2,12.8],[7.3,12.2],[8.3,11],[4.9,13.1],[9.4,10.6],[10,10.3],[5.5,17.3],[7,11.9],[7.7,11.6],[6.6,12.3],[8.7,11.4]];
const dSpeckBrown = [[7.1,10.9],[7.4,10.5],[7.7,10.2],[7.2,10.7],[7.6,10.6],[8,10.3]];

// plot rectangles in page pixels plus the axis limits of each embedding
const panels = [
  { rect: [78, 47, 353, 387], xLim: [-7.7, 20.3], yLim: [-11.48, 18.07], xTicks: aXTicks, yTicks: aYTicks, bar: [370, 387] },
  { rect: [578, 47, 857, 387], xLim: [-2.58, 20.95], yLim: [-9.07, 17.7], xTicks: bXTicks, yTicks: bYTicks, bar: [874, 891] },
  { rect: [78, 456, 353, 797], xLim: [-9.66, 19.54], yLim: [-12.5, 21.05], xTicks: cXTicks, yTicks: cYTicks, bar: [370, 387] },
  { rect: [578, 456, 857, 797], xLim: [-4.05, 22.48], yLim: [-5.62, 22.8], xTicks: dXTicks, yTicks: dYTicks, bar: [874, 891] }
];

function toPoints(list) {
  return list.map(p => ({ x: p[0], y: p[1] }));
}
// rounded cluster outline, the dashed stroke keeps the edge from looking cut out
function blob(list, c) {
  return { data: toPoints(list), showLine: true, fill: 'shape', backgroundColor: tab10[c], borderColor: tab10[c], borderWidth: 1.4, borderDash: [1, 0.8], pointRadius: 0, tension: 0.22 };
}
// same thing with straight edges, for the clusters with sharp arms
function arms(list, c) {
  return { data: toPoints(list), showLine: true, fill: 'shape', backgroundColor: tab10[c], borderColor: tab10[c], borderWidth: 1.2, borderDash: [1, 0.8], pointRadius: 0, tension: 0 };
}
function thread(list, c, width) {
  return { data: toPoints(list), showLine: true, fill: false, borderColor: tab10[c], borderWidth: width, pointRadius: 0, tension: 0.35 };
}
function dots(list, color, radius) {
  return { data: toPoints(list), showLine: false, backgroundColor: color, borderWidth: 0, pointRadius: radius };
}

const layers = [
  [
    blob(aBlue, 0), thread(aOrange, 1, 2.2), thread(aOrangeBranch, 1, 2.2), blob(aGreen, 2), blob(aRed, 3), blob(aPurple, 4), blob(aBrown, 5), blob(aPink, 6),
    blob(aGrey, 7), blob(aGreySmall, 7), blob(aOlive, 8), blob(aCyan, 9),
    dots(aGaps, '#fff', 1.4), dots(aGapsFine, '#fff', 0.9), dots(aSpeckOrange, tab10[1], 0.8), dots(aSpeckCyan, tab10[9], 0.8), dots(aSpeckGrey, tab10[7], 0.8)
  ],
  [
    arms(bBlue, 0), arms(bOrange, 1), thread(bOrangeSmall, 1, 1.2), arms(bGreen, 2), arms(bGreenTail, 2), arms(bPink, 6), thread(bPinkSmall, 6, 1.6),
    blob(bRed, 3), arms(bPurple, 4), arms(bBrown, 5), arms(bBrownSmall, 5), thread(bGreySmall, 7, 1.2), arms(bGrey, 7), arms(bOlive, 8), arms(bCyan, 9), arms(bMixOrange, 1), arms(bMixOlive, 8),
    dots(bGaps, '#fff', 1.4), dots(bGapsFine, '#fff', 0.9), dots(bSpeckBrown, tab10[5], 1), dots(bSpeckRed, tab10[3], 1), dots(bSpeckPurple, tab10[4], 1), dots(bSpeckOlive, tab10[8], 1.1), dots(bSpeckOrange, tab10[1], 1.1),
    dots(bSpeckBlue, tab10[0], 1), dots(bSpeckGreen, tab10[2], 0.9), dots(bSpeckCyan, tab10[9], 0.9)
  ],
  [
    blob(cBlue, 0), blob(cOrange, 1), blob(cGreenTop, 2), blob(cGreenRight, 2), blob(cGreenLeft, 2), blob(cRed, 3), blob(cBrown, 5), blob(cPink, 6),
    blob(cGrey, 7), blob(cGreySmall, 7), blob(cOlive, 8), blob(cCyan, 9), blob(cPurple, 4),
    dots(cGaps, '#fff', 1.4), dots(cGapsFine, '#fff', 0.9), dots(cSpeckOrange, tab10[1], 0.9), dots(cSpeckCyan, tab10[9], 0.8), dots(cSpeckBlue, tab10[0], 0.9), dots(cSpeckPurple, tab10[4], 0.9), dots(cSpeckRed, tab10[3], 0.8)
  ],
  [
    arms(dBlue, 0), thread(dBlueSmall, 0, 1.2), arms(dCyan, 9), arms(dOrange, 1), thread(dOrangeUpper, 1, 1.2), thread(dOrangeLower, 1, 1.2), arms(dOlive, 8), arms(dGreen, 2), arms(dPink, 6), arms(dPinkSmall, 6),
    arms(dGreyUpper, 7), arms(dGreyLower, 7), thread(dGreyThread, 7, 1.2), thread(dGreySmall, 7, 1.2), arms(dMixOrange, 1), arms(dMixBlue, 0), blob(dRed, 3), arms(dBrown, 5), blob(dBrownRight, 5), arms(dPurple, 4),
    arms(dGreenPatch, 2), thread(dPurpleTail, 4, 1.4), thread(dGreenSmall, 2, 1.2),
    dots(dGaps, '#fff', 1.4), dots(dGapsFine, '#fff', 0.9), dots(dSpeckGreen, tab10[2], 0.9), dots(dSpeckPurple, tab10[4], 1), dots(dSpeckOrange, tab10[1], 1.1), dots(dSpeckOlive, tab10[8], 1.1), dots(dSpeckBlue, tab10[0], 1.1), dots(dSpeckRed, tab10[3], 1), dots(dSpeckCyan, tab10[9], 1), dots(dSpeckBrown, tab10[5], 1.2)
  ]
];

// outline all four sides of the plot area
const framePlugin = {
  id: 'frame',
  afterDraw(chart) {
    const a = chart.chartArea, ctx = chart.ctx;
    ctx.save();
    ctx.strokeStyle = chart.options.plugins.frame.color;
    ctx.lineWidth = 1;
    ctx.strokeRect(a.left - 0.5, a.top - 0.5, a.right - a.left + 1, a.bottom - a.top + 1);
    ctx.restore();
  }
};

const tickFont = { family: '"DejaVu Sans"', size: 7.5 };
const minus = v => String(v).replace('-', '\u2212');

function addCanvas(left, top, width, height) {
  const c = document.createElement('canvas');
  c.style.left = left + 'px';
  c.style.top = top + 'px';
  c.style.width = width + 'px';
  c.style.height = height + 'px';
  c.width = width;
  c.height = height;
  document.body.appendChild(c);
  return c;
}

function axis(lim, ticks, position, extra) {
  return Object.assign({
    type: 'linear', position, min: lim[0], max: lim[1],
    afterBuildTicks: s => { s.ticks = ticks.map(value => ({ value })); },
    grid: { drawOnChartArea: false, tickLength: 3, color: '#666', tickWidth: 0.8 },
    border: { display: false },
    ticks: { font: tickFont, color: '#444', padding: 2, autoSkip: false, maxRotation: 0, callback: minus }
  }, extra);
}

panels.forEach((p, i) => {
  const [l, t, r, b] = p.rect;
  const leftGap = 38, topGap = 8, bottomGap = 20, rightGap = 8;
  const canvas = addCanvas(l - leftGap, t - topGap, r - l + leftGap + rightGap, b - t + topGap + bottomGap);
  // datasets paint last-to-first, so flip to keep later layers on top
  const datasets = layers[i].slice().reverse();
  new Chart(canvas, {
    type: 'scatter',
    data: { datasets },
    options: {
      responsive: false, animation: false, events: [],
      layout: { padding: { top: topGap, right: rightGap } },
      plugins: { legend: { display: false }, tooltip: { enabled: false }, frame: { color: '#777' } },
      scales: {
        x: axis(p.xLim, p.xTicks, 'bottom', { afterFit: s => { s.height = bottomGap; } }),
        y: axis(p.yLim, p.yTicks, 'left', { afterFit: s => { s.width = leftGap; } })
      }
    },
    plugins: [framePlugin]
  });

  // colour bar beside the plot
  const barCanvas = addCanvas(p.bar[0] - 2, t - topGap, p.bar[1] - p.bar[0] + 26, b - t + topGap + 8);
  new Chart(barCanvas, {
    type: 'bar',
    data: {
      labels: [''],
      datasets: barSpans.map((v, k) => ({ data: [v], backgroundColor: barColors[k], barPercentage: 1, categoryPercentage: 1, stack: 'bar' }))
    },
    options: {
      responsive: false, animation: false, events: [],
      layout: { padding: { left: 2, top: topGap, bottom: 8 } },
      plugins: { legend: { display: false }, tooltip: { enabled: false }, frame: { color: '#556' } },
      scales: {
        x: { display: false, stacked: true },
        y: axis([0, 9], barTicks, 'right', { stacked: true, afterFit: s => { s.width = 24; } })
      }
    },
    plugins: [framePlugin]
  });
});
</script>
</body>
</html>
